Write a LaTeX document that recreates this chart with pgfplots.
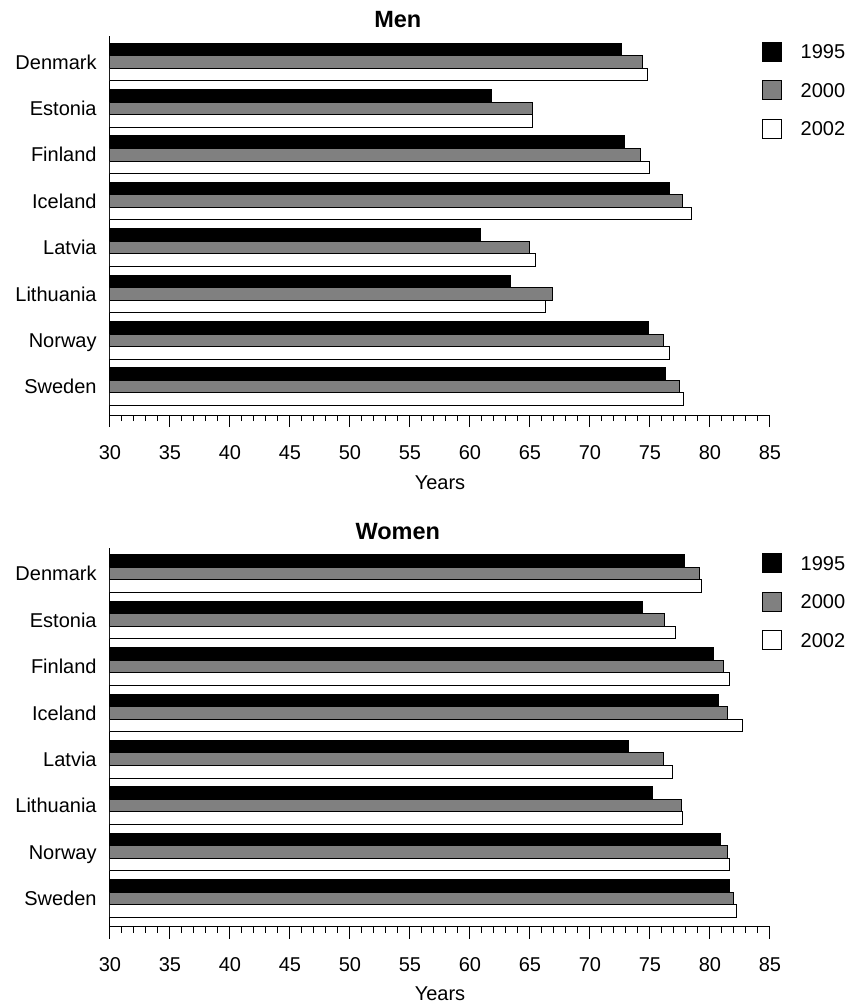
\documentclass[border=0pt]{standalone}
\usepackage{fontspec}
\setmainfont{Liberation Sans}
\usepackage{pgfplots}
\pgfplotsset{compat=1.18}
\usepackage{pgfplotstable}
\definecolor{mgray}{RGB}{128,128,128}

\pgfplotstableread{
y  m95   m00  m02  w95  w00  w02
7  72.65 74.4 74.8 77.9 79.1 79.3
6  61.8  65.2 65.2 74.4 76.2 77.1
5  72.9  74.2 75.0 80.3 81.1 81.6
4  76.6  77.7 78.5 80.7 81.5 82.7
3  60.9  65.0 65.5 73.2 76.1 76.9
2  63.4  66.9 66.3 75.2 77.6 77.7
1  74.9  76.1 76.6 80.9 81.5 81.6
0  76.3  77.5 77.8 81.6 82.0 82.2
}\datatable

\newcommand{\tfont}{\fontsize{10}{12}\selectfont}
\pgfplotsset{
 sq legend/.style={legend image code/.code={\draw[##1,line width=0.5pt] (0pt,-4.75pt) rectangle (9.5pt,4.75pt);}},
 lifeaxis/.style={
  width=330pt, height=189.5pt, scale only axis,
  xbar, bar width=0.27,
  xmin=30, xmax=85, ymin=-0.61, ymax=7.56,
  enlargelimits=false,
  axis lines*=left,
  axis line style={line width=0.5pt, black},
  tick align=outside,
  xtick={30,35,...,85}, minor x tick num=4,
  major tick length=6pt, minor tick length=3pt,
  every tick/.style={black, line width=0.5pt},
  ytick={0,...,7},
  yticklabels={Sweden,Norway,Lithuania,Latvia,Iceland,Finland,Estonia,Denmark},
  y tick style={draw=none},
  /pgf/number format/assume math mode=true,
  tick label style={font=\tfont},
  xticklabel style={inner sep=0pt, yshift=-9.25pt},
  yticklabel style={inner sep=0pt, xshift=-0.5pt, text height=7.16pt, text depth=0pt, anchor=east},
  xlabel={Years},
  xlabel style={at={(axis description cs:0.5,0)}, anchor=north, yshift=-30pt, inner sep=0pt, font=\tfont},
  title style={at={(axis description cs:0.436,1)}, anchor=base, yshift=-1.75pt, inner sep=0pt, font=\fontsize{11.75}{14}\bfseries\selectfont},
  legend style={at={(axis description cs:0.9874,0.985)}, anchor=north west, draw=none, fill=none,
    inner sep=0pt, outer sep=0pt, row sep=9.25pt, column sep=9.5pt,
    nodes={inner sep=0pt, text depth=0pt}, cells={anchor=west}, font=\tfont},
 }
}

\begin{document}
\begin{tikzpicture}
\useasboundingbox (0,0) rectangle (426pt,-503pt);
\begin{axis}[lifeaxis, at={(55pt,-207.5pt)}, anchor=south west, title={Men}]
\addplot[fill=black, draw=black, line width=0.5pt, bar shift=0.27, sq legend] table[x=m95, y=y]{\datatable};
\addplot[fill=mgray, draw=black, line width=0.5pt, bar shift=0, sq legend] table[x=m00, y=y]{\datatable};
\addplot[fill=white, draw=black, line width=0.5pt, bar shift=-0.27, sq legend] table[x=m02, y=y]{\datatable};
\legend{1995,2000,2002}
\end{axis}
\begin{axis}[lifeaxis, at={(55pt,-463.35pt)}, anchor=south west, title={Women}]
\addplot[fill=black, draw=black, line width=0.5pt, bar shift=0.27, sq legend] table[x=w95, y=y]{\datatable};
\addplot[fill=mgray, draw=black, line width=0.5pt, bar shift=0, sq legend] table[x=w00, y=y]{\datatable};
\addplot[fill=white, draw=black, line width=0.5pt, bar shift=-0.27, sq legend] table[x=w02, y=y]{\datatable};
\legend{1995,2000,2002}
\end{axis}
\end{tikzpicture}
\end{document}
